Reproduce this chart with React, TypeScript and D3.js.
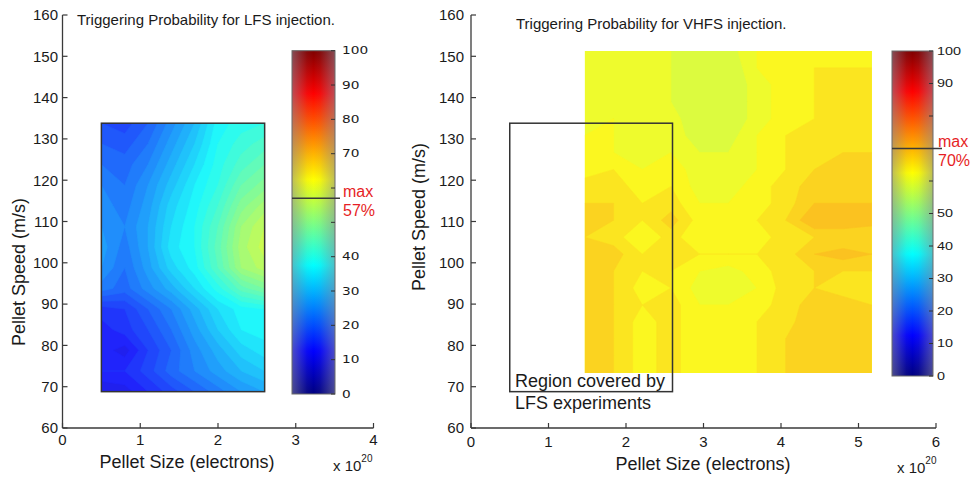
import React from "react";
import * as d3 from "d3";

// ---------- DATA ----------
// LFS injection: pellet size (1e20 electrons) columns, pellet speed (m/s) rows top->bottom, probability %
const lfsSizes = [0.5, 0.8, 1.1, 1.4, 1.7, 2.0, 2.3, 2.6];
const lfsSpeeds = [133.8, 128.8, 123.8, 118.8, 113.8, 108.8, 103.8, 98.8, 93.8, 88.8, 83.8, 78.8, 73.8, 68.8];
const lfsProb = [
  [18, 17, 20, 25, 30, 37, 39, 40],
  [20, 19, 22, 27, 32, 38, 41, 43],
  [22, 21, 24, 29, 34, 39, 43, 46],
  [24, 22, 26, 31, 36, 40, 46, 49],
  [25, 23, 27, 33, 37, 42, 49, 53],
  [26, 24, 28, 34, 38, 44, 52, 56],
  [27, 23, 28, 35, 38, 45, 53, 57],
  [26, 22, 27, 33, 37, 44, 52, 55],
  [23, 21, 25, 29, 34, 39, 45, 48],
  [15, 16, 20, 24, 29, 34, 37, 38],
  [13, 15, 18, 22, 27, 32, 36, 37],
  [13, 11, 16, 20, 25, 29, 33, 35],
  [14, 14, 17, 21, 24, 27, 30, 32],
  [10, 11, 14, 17, 20, 23, 26, 28],
];

// VHFS injection
const vhfsSizes = [1.47, 1.84, 2.21, 2.58, 2.95, 3.32, 3.69, 4.06, 4.43, 4.8, 5.17];
const vhfsSpeeds = [151.3, 147.2, 143.1, 139.0, 134.9, 130.8, 126.7, 122.6, 118.5, 114.4, 110.3, 106.2, 102.1, 98.0, 93.9, 89.8, 85.7, 81.6, 77.5, 73.3];
const vhfsProb = [
  [61, 61, 62, 60, 59, 59, 62, 63, 63, 63, 63],
  [61, 61, 62, 60, 58, 58, 62, 63, 64, 64, 64],
  [61, 61, 62, 60, 58, 58, 61, 63, 64, 64, 64],
  [61, 61, 62, 60, 58, 58, 61, 63, 64, 64, 64],
  [61, 62, 61, 61, 58, 58, 61, 63, 64, 65, 64],
  [62, 62, 61, 61, 59, 59, 62, 64, 65, 65, 65],
  [62, 62, 61, 62, 60, 60, 62, 64, 65, 66, 66],
  [63, 64, 62, 63, 61, 61, 62, 64, 66, 66, 66],
  [65, 65, 63, 64, 61, 61, 63, 65, 67, 67, 67],
  [66, 66, 64, 65, 62, 62, 63, 65, 68, 68, 68],
  [67, 66, 64, 67, 63, 63, 64, 66, 70, 70, 69],
  [66, 65, 62, 65, 62, 62, 63, 65, 66, 66, 66],
  [66, 67, 64, 65, 64, 64, 64, 65, 68, 69, 68],
  [66, 66, 64, 64, 62, 61, 63, 65, 66, 66, 66],
  [66, 66, 63, 64, 61, 61, 62, 65, 66, 65, 64],
  [66, 66, 64, 65, 62, 62, 63, 65, 67, 67, 66],
  [66, 66, 63, 65, 62, 62, 64, 65, 68, 67, 66],
  [66, 66, 63, 65, 62, 62, 64, 66, 66, 66, 66],
  [66, 66, 63, 65, 62, 62, 64, 66, 66, 66, 66],
  [66, 66, 63, 65, 62, 62, 64, 66, 66, 66, 66],
];

const lfsBox = { x0: 0.5, x1: 2.6, y0: 68.8, y1: 133.8 };
const speedTicks = [60, 70, 80, 90, 100, 110, 120, 130, 140, 150, 160];
const lfsSizeTicks = [0, 1, 2, 3, 4];
const vhfsSizeTicks = [0, 1, 2, 3, 4, 5, 6];
const cbTicks = [0, 10, 20, 30, 40, 50, 60, 70, 80, 90, 100];
const lfsCbLabels = [0, 10, 20, 30, 40, 70, 80, 90, 100];
const vhfsCbLabels = [0, 10, 20, 30, 40, 50, 90, 100];
const lfsMax = 57;
const vhfsMax = 70;
const LEVELS = d3.range(0, 100, 2);

// ---------- helpers ----------
const FONT = "'Liberation Sans', Arial, Helvetica, sans-serif";
const AX = "#3a3a3a";

function jet(v: number): string {
  const t = Math.max(0, Math.min(1, v / 100));
  const c = (x: number) => Math.max(0, Math.min(1, x));
  const r = c(1.5 - Math.abs(4 * t - 3));
  const g = c(1.5 - Math.abs(4 * t - 2));
  const b = c(1.5 - Math.abs(4 * t - 1));
  return d3.rgb(r * 255, g * 255, b * 255).formatHex();
}
const fieldColor = (v: number) => d3.interpolateRgb(jet(v), "#e2e2e2")(0.14);

function ContourField({ sizes, speeds, grid, xs, ys, id }: any) {
  const nx = sizes.length;
  const ny = speeds.length;
  const values = grid.flat();
  const minV = d3.min(values) as number;
  const base = LEVELS.filter((l) => l <= minV).pop() ?? 0;
  const levels = LEVELS.filter((l) => l >= base);
  const polys = d3.contours().size([nx, ny]).thresholds(levels)(values);
  const gx = d3.scaleLinear().domain(d3.range(nx).map((i) => i + 0.5)).range(sizes);
  const gy = d3.scaleLinear().domain(d3.range(ny).map((i) => i + 0.5)).range(speeds);
  const path = d3.geoPath(
    d3.geoTransform({
      point(x: number, y: number) {
        (this as any).stream.point(xs(gx(x)), ys(gy(y)));
      },
    })
  );
  const x0 = xs(sizes[0]);
  const x1 = xs(sizes[nx - 1]);
  const y0 = ys(speeds[0]);
  const y1 = ys(speeds[ny - 1]);
  return (
    <g>
      <clipPath id={id}>
        <rect x={x0} y={y0} width={x1 - x0} height={y1 - y0} />
      </clipPath>
      <g clipPath={`url(#${id})`}>
        {polys
          .filter((p: any) => p.coordinates.length)
          .map((p: any) => (
            <path
              key={p.value}
              d={path(p) || ""}
              fill={fieldColor(p.value + 1)}
              stroke={fieldColor(p.value + 1)}
              strokeWidth={0.6}
            />
          ))}
      </g>
    </g>
  );
}

function Axes({ xs, ys, xTicks, labelBase, yLabelX, yLabelCenter, yLabelBase, xLabelCenter, xLabelBase, expX, expBase }: any) {
  const [xa, xb] = xs.range();
  const [yb, ya] = ys.range();
  return (
    <g fontFamily={FONT} fill="#1a1a1a">
      <line x1={xa} x2={xb} y1={yb} y2={yb} stroke={AX} strokeWidth={1.3} />
      <line x1={xa} x2={xa} y1={ya} y2={yb} stroke={AX} strokeWidth={1.3} />
      {xTicks.map((t: number) => (
        <g key={"x" + t}>
          <line x1={xs(t)} x2={xs(t)} y1={yb} y2={yb - 5} stroke={AX} strokeWidth={1.2} />
          <text x={xs(t)} y={labelBase} fontSize={15} textAnchor="middle">{t}</text>
        </g>
      ))}
      {speedTicks.map((t) => (
        <g key={"y" + t}>
          <line x1={xa} x2={xa + 5} y1={ys(t)} y2={ys(t)} stroke={AX} strokeWidth={1.2} />
          <text x={yLabelX} y={ys(t) + 5.3} fontSize={15} textAnchor="end">{t}</text>
        </g>
      ))}
      <text x={xLabelCenter} y={xLabelBase} fontSize={18} textAnchor="middle">Pellet Size (electrons)</text>
      <text transform={`translate(${yLabelBase},${yLabelCenter}) rotate(-90)`} fontSize={18} textAnchor="middle">
        Pellet Speed (m/s)
      </text>
      <text x={expX} y={expBase} fontSize={15}>
        x 10<tspan fontSize={10} dy={-9}>20</tspan>
      </text>
    </g>
  );
}

function Colorbar({ id, x, w, cs, labels, labelX, charW, labelFont, labelSize, maxV, maxLineEnd, maxBase }: any) {
  const [yb, yt] = cs.range();
  const stops = d3.range(0, 101, 2.5);
  return (
    <g>
      <defs>
        <linearGradient id={id + "v"} x1="0" y1="1" x2="0" y2="0">
          {stops.map((s) => (
            <stop key={s} offset={s / 100} stopColor={jet(s)} />
          ))}
        </linearGradient>
        <linearGradient id={id + "h"} x1="0" y1="0" x2="1" y2="0">
          <stop offset="0" stopColor="#8a8a9a" stopOpacity={0.55} />
          <stop offset="0.35" stopColor="#8a8a9a" stopOpacity={0.08} />
          <stop offset="0.5" stopColor="#8a8a9a" stopOpacity={0} />
          <stop offset="0.65" stopColor="#8a8a9a" stopOpacity={0.08} />
          <stop offset="1" stopColor="#8a8a9a" stopOpacity={0.55} />
        </linearGradient>
      </defs>
      <rect x={x} y={yt} width={w} height={yb - yt} fill={`url(#${id}v)`} />
      <rect x={x} y={yt} width={w} height={yb - yt} fill={`url(#${id}h)`} stroke="#6a6a6a" strokeWidth={1} />
      {cbTicks.map((t: number) => (
        <line key={t} x1={x + w - 4} x2={x + w} y1={cs(t)} y2={cs(t)} stroke="#333" strokeWidth={1} />
      ))}
      {labels.map((t: number) => (
        <text
          key={"l" + t}
          x={labelX}
          y={cs(t) + labelSize * 0.36}
          fontSize={labelSize}
          fontFamily={labelFont}
          fill="#1a1a1a"
          textLength={String(t).length * charW}
          lengthAdjust="spacingAndGlyphs"
        >
          {t}
        </text>
      ))}
      <line x1={x} x2={maxLineEnd} y1={cs(maxV)} y2={cs(maxV)} stroke="#3a3a3a" strokeWidth={1.5} />
      <g fontFamily={FONT} fontSize={16} fill="#e61e25">
        <text x={labelX + 1} y={maxBase}>max</text>
        <text x={labelX + 1} y={maxBase + 19}>{maxV}%</text>
      </g>
    </g>
  );
}

export default function App() {
  const xsL = d3.scaleLinear().domain([0, 4]).range([62.5, 373.5]);
  const ysL = d3.scaleLinear().domain([60, 160]).range([428, 15]);
  const xsR = d3.scaleLinear().domain([0, 6]).range([471, 936]);
  const ysR = d3.scaleLinear().domain([60, 160]).range([428, 15]);
  const cbL = d3.scaleLinear().domain([0, 100]).range([394, 50.7]);
  const cbR = d3.scaleLinear().domain([0, 100]).range([376, 51]);

  return (
    <svg width={971} height={479} style={{ position: "absolute", left: 0, top: 0, background: "#fff" }}>
      <rect width={971} height={479} fill="#fff" />
      {/* Left panel */}
      <ContourField sizes={lfsSizes} speeds={lfsSpeeds} grid={lfsProb} xs={xsL} ys={ysL} id="clipL" />
      <rect
        x={xsL(lfsBox.x0)}
        y={ysL(lfsBox.y1)}
        width={xsL(lfsBox.x1) - xsL(lfsBox.x0)}
        height={ysL(lfsBox.y0) - ysL(lfsBox.y1)}
        fill="none"
        stroke="#333"
        strokeWidth={1.5}
      />
      <Axes
        xs={xsL}
        ys={ysL}
        xTicks={lfsSizeTicks}
        labelBase={445}
        yLabelX={58}
        yLabelCenter={272}
        yLabelBase={25}
        xLabelCenter={187}
        xLabelBase={468}
        expX={333}
        expBase={471}
      />
      <text x={77} y={25} fontFamily={FONT} fontSize={15} fill="#1a1a1a">
        Triggering Probability for LFS injection.
      </text>
      <Colorbar
        id="cbL"
        x={292}
        w={43}
        cs={cbL}
        labels={lfsCbLabels}
        labelX={342}
        charW={8.7}
        labelFont="'DejaVu Sans', Verdana, sans-serif"
        labelSize={10}
        maxV={lfsMax}
        maxLineEnd={340}
        maxBase={197}
      />

      {/* Right panel */}
      <ContourField sizes={vhfsSizes} speeds={vhfsSpeeds} grid={vhfsProb} xs={xsR} ys={ysR} id="clipR" />
      <rect
        x={xsR(lfsBox.x0)}
        y={ysR(lfsBox.y1)}
        width={xsR(lfsBox.x1) - xsR(lfsBox.x0)}
        height={ysR(lfsBox.y0) - ysR(lfsBox.y1)}
        fill="none"
        stroke="#333"
        strokeWidth={1.5}
      />
      <g fontFamily={FONT} fontSize={18} fill="#1a1a1a">
        <text x={515} y={387}>Region covered by</text>
        <text x={515} y={409}>LFS experiments</text>
      </g>
      <Axes
        xs={xsR}
        ys={ysR}
        xTicks={vhfsSizeTicks}
        labelBase={447}
        yLabelX={464}
        yLabelCenter={217}
        yLabelBase={425}
        xLabelCenter={703}
        xLabelBase={470}
        expX={897}
        expBase={473}
      />
      <text x={516} y={29} fontFamily={FONT} fontSize={15} fill="#1a1a1a">
        Triggering Probability for VHFS injection.
      </text>
      <Colorbar
        id="cbR"
        x={892}
        w={41}
        cs={cbR}
        labels={vhfsCbLabels}
        labelX={937}
        charW={8}
        labelFont={FONT}
        labelSize={11}
        maxV={vhfsMax}
        maxLineEnd={942}
        maxBase={147}
      />
    </svg>
  );
}
